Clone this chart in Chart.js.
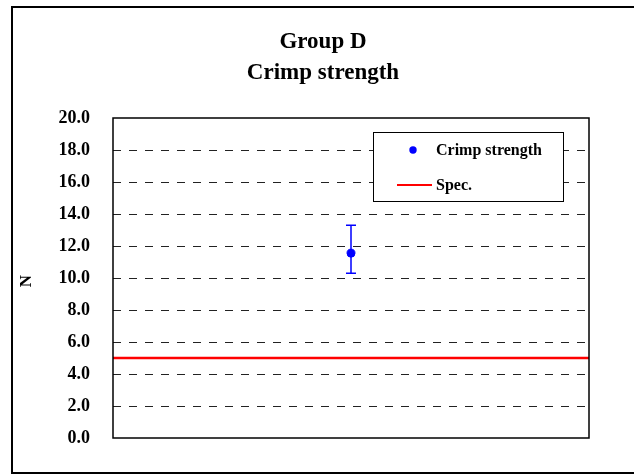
<!DOCTYPE html>
<html>
<head>
<meta charset="utf-8">
<script src="https://cdn.jsdelivr.net/npm/chart.js@4"></script>
<style>
  html, body { margin: 0; padding: 0; background: #fff; }
  #wrap { width: 634px; height: 475px; position: relative; }
</style>
</head>
<body>
<div id="wrap"><canvas id="chart"></canvas></div>
<script>
const titleLines = ["Group D", "Crimp strength"];
const seriesName = "Crimp strength";
const specName = "Spec.";
const groupX = [1];
const crimpMean = [11.55];
const crimpMax = [13.3];
const crimpMin = [10.3];
const specX = [0, 2];
const specY = [5.0, 5.0];
const yAxisTitle = "N";

const SERIF = "'Liberation Serif', 'Times New Roman', serif";

// outer frame, titles, y title, plot box
const framePlugin = {
  id: "frame",
  beforeDraw(chart) {
    const ctx = chart.ctx;
    ctx.save();
    ctx.fillStyle = "#fff";
    ctx.fillRect(0, 0, chart.width, chart.height);
    ctx.strokeStyle = "#000";
    ctx.lineWidth = 2;
    ctx.beginPath();
    ctx.moveTo(640, 7);
    ctx.lineTo(12, 7);
    ctx.lineTo(12, 473);
    ctx.lineTo(640, 473);
    ctx.stroke();
    ctx.restore();
  },
  afterDraw(chart) {
    const ctx = chart.ctx;
    const a = chart.chartArea;
    ctx.save();
    ctx.strokeStyle = "#000";
    ctx.lineWidth = 1.5;
    ctx.strokeRect(a.left, a.top, a.right - a.left, a.bottom - a.top);

    ctx.fillStyle = "#000";
    ctx.textAlign = "center";
    ctx.textBaseline = "middle";
    ctx.font = "bold 23px " + SERIF;
    ctx.fillText(titleLines[0], 323, 42);
    ctx.fillText(titleLines[1], 323, 73);

    ctx.translate(27, 281);
    ctx.rotate(-Math.PI / 2);
    ctx.font = "bold 17px " + SERIF;
    ctx.fillText(yAxisTitle, 0, 0);
    ctx.restore();
  }
};

// min/max whiskers around the mean
const errorBarPlugin = {
  id: "errorBars",
  afterDatasetsDraw(chart) {
    const ctx = chart.ctx;
    const xs = chart.scales.x, ys = chart.scales.y;
    ctx.save();
    ctx.strokeStyle = "#0000ff";
    ctx.lineWidth = 1.5;
    groupX.forEach((gx, i) => {
      const px = xs.getPixelForValue(gx);
      const top = ys.getPixelForValue(crimpMax[i]);
      const bot = ys.getPixelForValue(crimpMin[i]);
      ctx.beginPath();
      ctx.moveTo(px, top); ctx.lineTo(px, bot);
      ctx.moveTo(px - 5, top); ctx.lineTo(px + 5, top);
      ctx.moveTo(px - 5, bot); ctx.lineTo(px + 5, bot);
      ctx.stroke();
    });
    ctx.restore();
  }
};

// boxed legend inside the plot, top right
const legendPlugin = {
  id: "boxLegend",
  afterDraw(chart) {
    const ctx = chart.ctx;
    const a = chart.chartArea;
    const x = a.left + 260, y = a.top + 14, w = 190, h = 69;
    ctx.save();
    ctx.fillStyle = "#fff";
    ctx.fillRect(x, y, w, h);
    ctx.strokeStyle = "#000";
    ctx.lineWidth = 1;
    ctx.strokeRect(x + 0.5, y + 0.5, w, h);

    ctx.fillStyle = "#0000ff";
    ctx.beginPath();
    ctx.arc(x + 40, y + 18, 3.7, 0, Math.PI * 2);
    ctx.fill();

    ctx.strokeStyle = "#ff0000";
    ctx.lineWidth = 2;
    ctx.beginPath();
    ctx.moveTo(x + 24, y + 53);
    ctx.lineTo(x + 59, y + 53);
    ctx.stroke();

    ctx.fillStyle = "#000";
    ctx.font = "bold 16px " + SERIF;
    ctx.textAlign = "left";
    ctx.textBaseline = "middle";
    ctx.fillText(seriesName, x + 63, y + 19);
    ctx.fillText(specName, x + 63, y + 54);
    ctx.restore();
  }
};

new Chart(document.getElementById("chart"), {
  type: "line",
  data: {
    datasets: [
      {
        label: specName,
        data: specX.map((x, i) => ({ x, y: specY[i] })),
        borderColor: "#ff0000",
        borderWidth: 2.5,
        pointRadius: 0,
        fill: false
      },
      {
        label: seriesName,
        data: groupX.map((x, i) => ({ x, y: crimpMean[i] })),
        showLine: false,
        pointRadius: 4,
        pointBackgroundColor: "#0000ff",
        pointBorderColor: "#0000ff"
      }
    ]
  },
  options: {
    responsive: true,
    maintainAspectRatio: false,
    animation: false,
    layout: { padding: { top: 118, right: 45, bottom: 37, left: 0 } },
    plugins: {
      legend: { display: false },
      title: { display: false },
      tooltip: { enabled: false }
    },
    scales: {
      x: {
        type: "linear",
        display: false,
        min: 0,
        max: 2
      },
      y: {
        min: 0,
        max: 20,
        afterFit: (s) => { s.width = 113; },
        border: { display: false, dash: [8, 8] },
        grid: {
          color: (c) => (c.tick.value === 0 || c.tick.value === 20 ? "rgba(0,0,0,0)" : "#222"),
          lineWidth: 1,
          drawTicks: false
        },
        ticks: {
          stepSize: 2,
          padding: 23,
          color: "#000",
          font: { family: SERIF, size: 18, weight: "bold" },
          callback: (v) => Number(v).toFixed(1)
        }
      }
    }
  },
  plugins: [framePlugin, errorBarPlugin, legendPlugin]
});
</script>
</body>
</html>
